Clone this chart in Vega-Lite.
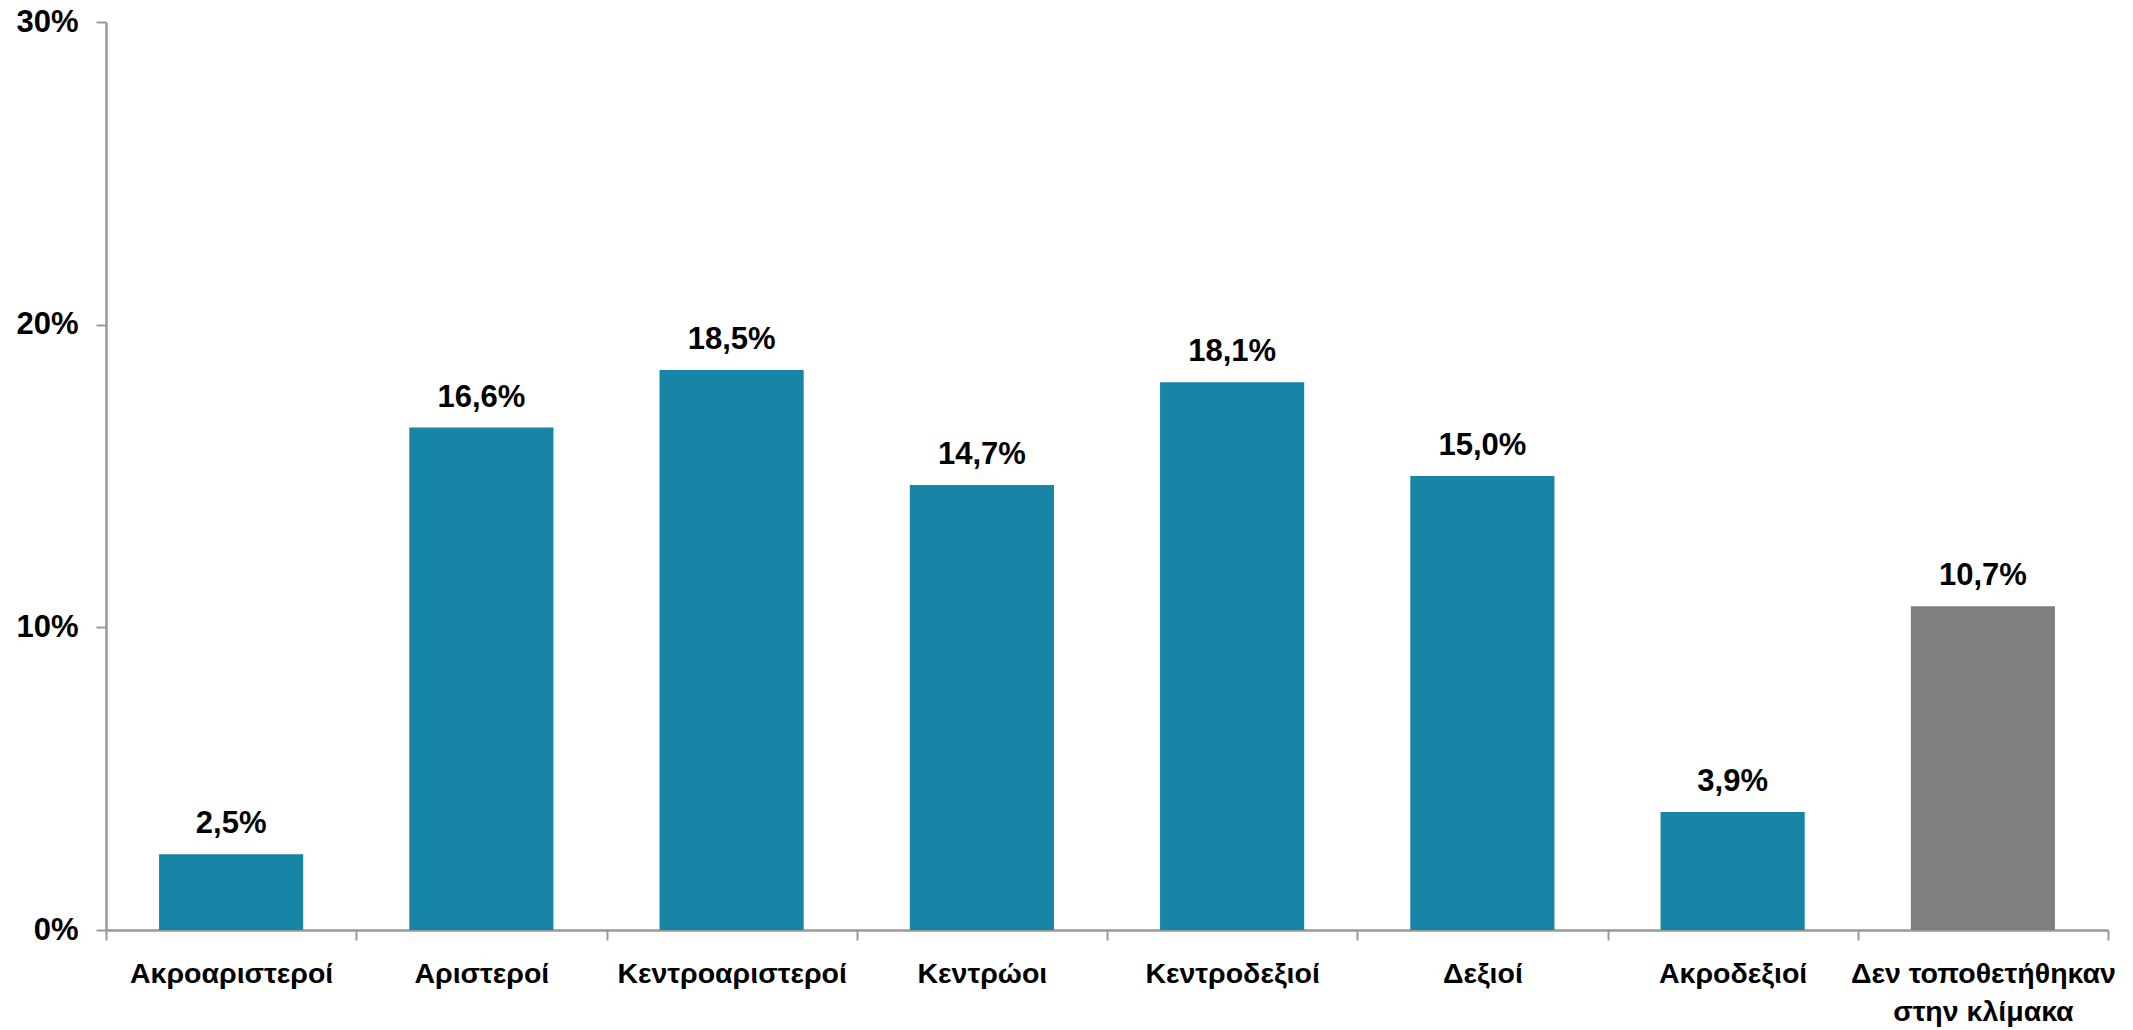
{
  "$schema": "https://vega.github.io/schema/vega-lite/v6.json",
  "autosize": {"type": "none"},
  "width": 2002,
  "height": 908,
  "padding": {"left": 106, "top": 22, "right": 25, "bottom": 100},
  "background": "white",
  "config": {
    "view": {"stroke": null},
    "locale": {"number": {"decimal": ",", "thousands": ".", "grouping": [3], "currency": ["", " €"]}},
    "font": "Liberation Sans, sans-serif"
  },
  "data": {
    "values": [
      {"category": "Ακροαριστεροί", "value": 0.025},
      {"category": "Αριστεροί", "value": 0.166},
      {"category": "Κεντροαριστεροί", "value": 0.185},
      {"category": "Κεντρώοι", "value": 0.147},
      {"category": "Κεντροδεξιοί", "value": 0.181},
      {"category": "Δεξιοί", "value": 0.150},
      {"category": "Ακροδεξιοί", "value": 0.039},
      {"category": "Δεν τοποθετήθηκαν στην κλίμακα", "value": 0.107}
    ]
  },
  "encoding": {
    "x": {
      "field": "category",
      "type": "nominal",
      "sort": null,
      "scale": {"paddingInner": 0, "paddingOuter": 0},
      "axis": {
        "title": null,
        "labelAngle": 0,
        "tickBand": "extent",
        "domainColor": "#999999",
        "domainWidth": 2.5,
        "tickColor": "#999999",
        "tickWidth": 2,
        "tickSize": 10,
        "labelFont": "Liberation Sans, sans-serif",
        "labelFontSize": 28.5,
        "labelFontWeight": "bold",
        "labelColor": "#000000",
        "labelPadding": 19,
        "labelLineHeight": 38,
        "labelLimit": 0,
        "labelExpr": "datum.value == 'Δεν τοποθετήθηκαν στην κλίμακα' ? ['Δεν τοποθετήθηκαν', 'στην κλίμακα'] : datum.label"
      }
    },
    "y": {
      "field": "value",
      "type": "quantitative",
      "scale": {"domain": [0, 0.3], "nice": false},
      "axis": {
        "title": null,
        "values": [0, 0.1, 0.2, 0.3],
        "format": ".0%",
        "grid": false,
        "domainColor": "#999999",
        "domainWidth": 2.5,
        "tickColor": "#999999",
        "tickWidth": 2,
        "tickSize": 10,
        "labelFont": "Liberation Sans, sans-serif",
        "labelFontSize": 31,
        "labelFontWeight": "bold",
        "labelColor": "#000000",
        "labelPadding": 18
      }
    }
  },
  "layer": [
    {
      "mark": {"type": "bar", "width": {"band": 0.576}},
      "encoding": {
        "color": {
          "condition": {"test": "datum.category == 'Δεν τοποθετήθηκαν στην κλίμακα'", "value": "#7F7F7F"},
          "value": "#1785A6"
        }
      }
    },
    {
      "mark": {
        "type": "text",
        "baseline": "alphabetic",
        "dy": -21,
        "fontSize": 31,
        "fontWeight": "bold",
        "color": "#000000",
        "font": "Liberation Sans, sans-serif"
      },
      "encoding": {
        "text": {"field": "value", "type": "quantitative", "format": ".1%"}
      }
    }
  ]
}
